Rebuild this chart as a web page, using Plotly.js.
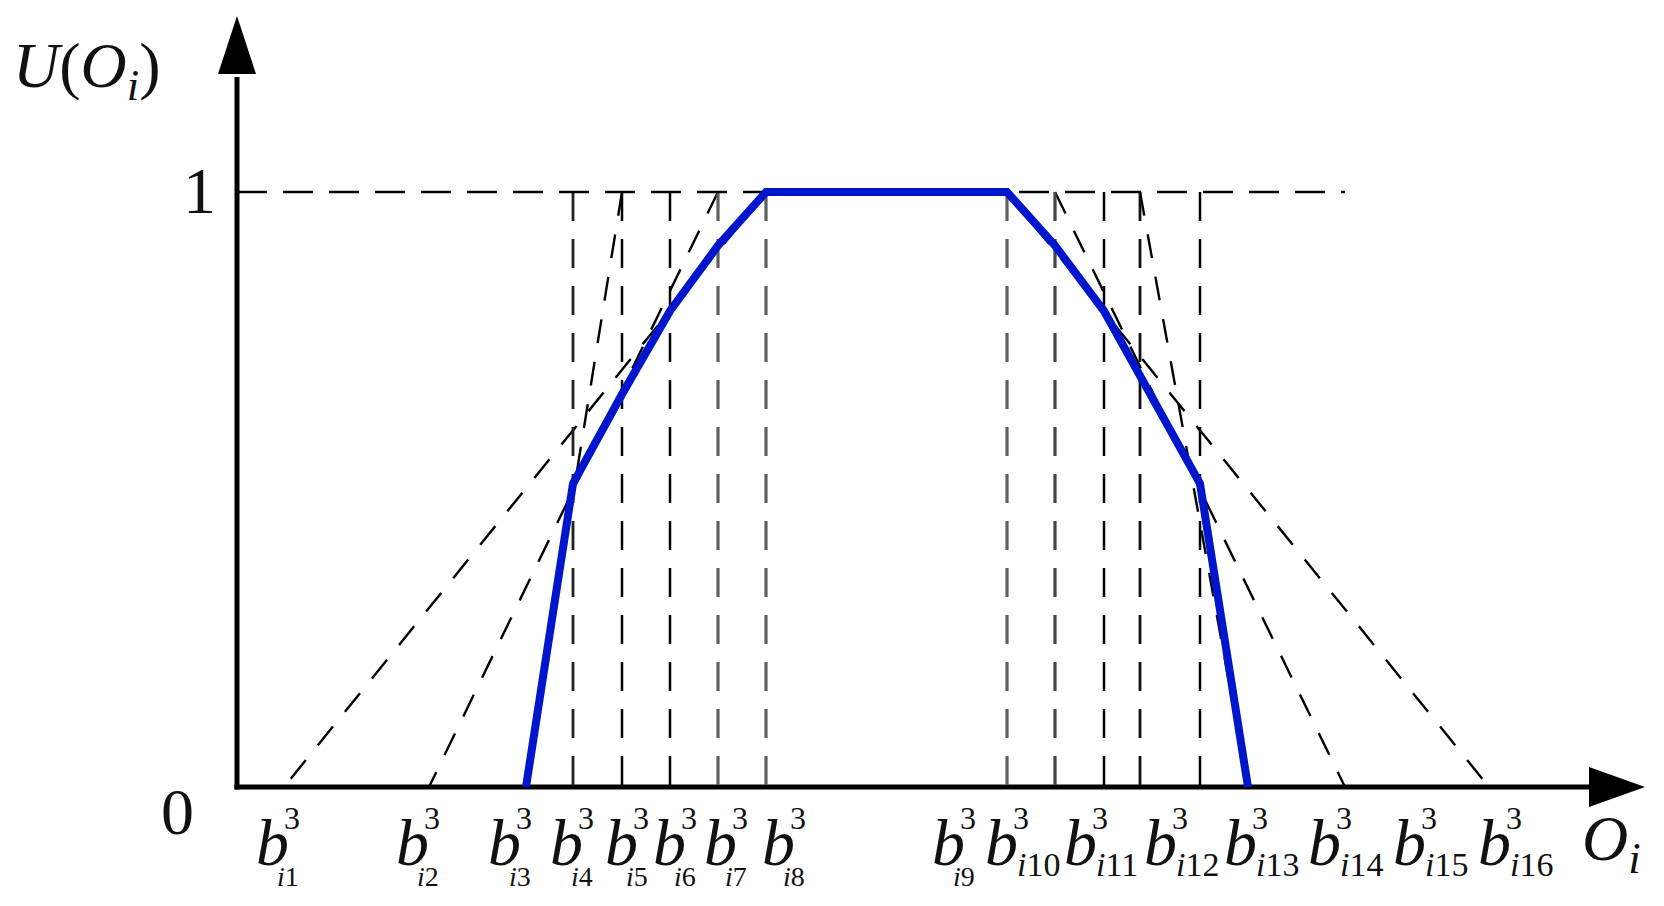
<!DOCTYPE html>
<html><head><meta charset="utf-8">
<script src="https://cdn.plot.ly/plotly-3.0.1.min.js"></script>
<style>html,body{margin:0;padding:0;background:#fff;}#chart{width:1664px;height:906px;}</style>
</head><body><div id="chart"></div>
<script>
// ---- data ----
const bNames  = ['i1','i2','i3','i4','i5','i6','i7','i8','i9','i10','i11','i12','i13','i14','i15','i16'];
const bValues = [4.7, 19.2, 28.9, 33.6, 38.5, 43.3, 48.1, 52.9, 77.0, 81.8, 86.7, 90.3, 96.3, 101.1, 110.8, 125.2];
// utility function U(O_i) (blue polyline)
const utilityPoints = ['i3','i4','i5','i6','i7','i8','i9','i10','i11','i12','i13','i14'];
const utilityValues = [0, 0.51, 0.66, 0.80, 0.91, 1, 1, 0.91, 0.80, 0.69, 0.51, 0];
// dashed trapezoids: [foot-left, top-left, top-right, foot-right]
const trapezoidA = ['i1','i8','i9','i16'];
const trapezoidB = ['i2','i7','i10','i15'];
const trapezoidC = ['i3','i5','i12','i14'];
// vertical dashed guides
const verticalGuides = ['i4','i5','i6','i7','i8','i9','i10','i11','i12','i13'];
// tick label positions along the O_i axis
const labelX = [3.5, 17.5, 26.7, 32.9, 38.4, 43.2, 48.3, 54.1, 71.1, 76.4, 84.3, 92.3, 100.3, 108.7, 117.2, 125.7];
const yTickLabels = ['0', '1'];
const yTickValues = [0, 1];
const refLineEnd = 'i15';

// ---- helpers ----
const bx = n => bValues[bNames.indexOf(n)];
const X0 = -23.7, X1 = 142.7;         // x range
const Y0 = -0.2, Y1 = 787 / 595;       // y range
const pxX = 10, pxY = 595;             // px per unit
const serif = 'Liberation Serif, Times New Roman, serif';

const traces = [];
const slantStyle = {color: '#000', width: 2.4, dash: '24px,19px'};
[trapezoidA, trapezoidB, trapezoidC].forEach(t => {
  traces.push({x: [bx(t[1]), bx(t[0])], y: [1, 0], mode: 'lines', line: slantStyle, hoverinfo: 'skip'});
  traces.push({x: [bx(t[2]), bx(t[3])], y: [1, 0], mode: 'lines', line: slantStyle, hoverinfo: 'skip'});
});
const vColors = ['#222', '#000', '#000', '#606060', '#606060', '#606060', '#444', '#000', '#111', '#000'];
const vWidths = [2.8, 2.5, 2.5, 3.2, 3.2, 3.2, 3.2, 2.5, 2.8, 2.5];
verticalGuides.forEach((n, k) => {
  traces.push({x: [bx(n), bx(n)], y: [1, 0], mode: 'lines',
    line: {color: vColors[k], width: vWidths[k], dash: '29px,18px'}, hoverinfo: 'skip'});
});
// reference line U = 1
traces.push({x: [0, bx(refLineEnd)], y: [1, 1], mode: 'lines',
  line: {color: '#000', width: 2.6, dash: '30px,16px'}, hoverinfo: 'skip'});
// utility function
traces.push({x: utilityPoints.map(bx), y: utilityValues, mode: 'lines',
  line: {color: 'rgb(0,22,204)', width: 8}, hoverinfo: 'skip'});

// ---- axes (drawn with arrows) ----
const yTip = (787 - 16) / pxY, yBase = (787 - 74) / pxY, yHalf = 19 / pxX;
const xTip = (1645 - 237) / pxX, xBase = (1589 - 237) / pxX, xHalf = 20 / pxY;
const shapes = [
  {type: 'line', xref: 'x', yref: 'y', x0: -0.25, x1: xBase + 0.5, y0: 0, y1: 0, line: {color: '#000', width: 5}, layer: 'below'},
  {type: 'line', xref: 'x', yref: 'y', x0: 0, x1: 0, y0: -2.5 / pxY, y1: yBase - 0.005, line: {color: '#000', width: 5}, layer: 'below'},
  {type: 'path', xref: 'x', yref: 'y', layer: 'below', fillcolor: '#000', line: {width: 0},
   path: `M ${-yHalf} ${yBase} L ${yHalf} ${yBase} L 0 ${yTip} Z`},
  {type: 'path', xref: 'x', yref: 'y', layer: 'below', fillcolor: '#000', line: {width: 0},
   path: `M ${xBase} ${-xHalf} L ${xBase} ${xHalf} L ${xTip} 0 Z`}
];

// ---- text ----
const ann = [];
const pyToY = py => (787 - py) / pxY;
const pxToX = px => (px - 237) / pxX;
bNames.forEach((n, k) => {
  const x = labelX[k];
  const wide = k >= 9;
  ann.push({x, y: pyToY(842), text: '<i>b</i>', showarrow: false, xanchor: 'center', yanchor: 'middle',
    font: {family: serif, size: 66, color: '#111'}});
  ann.push({x, y: pyToY(818), xshift: 10, text: '3', showarrow: false, xanchor: 'left', yanchor: 'middle',
    font: {family: serif, size: 32, color: '#111'}});
  ann.push({x, y: pyToY(wide ? 864 : 876), xshift: wide ? 14 : 3, text: '<i>' + n[0] + '</i>' + n.slice(1), showarrow: false,
    xanchor: 'left', yanchor: 'middle', font: {family: serif, size: wide ? 34 : 28, color: '#111'}});
});
ann.push({x: pxToX(1580), y: pyToY(843), text: '<i>O</i><sub><i>i</i></sub>', showarrow: false,
  xanchor: 'left', yanchor: 'middle', font: {family: serif, size: 64, color: '#111'}});
ann.push({x: pxToX(11), y: pyToY(70), text: '<i>U</i>(<i>O</i><sub><i>i</i></sub>)', showarrow: false,
  xanchor: 'left', yanchor: 'middle', font: {family: serif, size: 64, color: '#111'}});
const yLabelPos = [[177, 811], [199, 190]];
yTickLabels.forEach((t, k) => {
  ann.push({x: pxToX(yLabelPos[k][0]), y: pyToY(yLabelPos[k][1]),
    text: t, showarrow: false, xanchor: 'center', yanchor: 'middle', font: {family: serif, size: 66, color: '#111'}});
});

const layout = {
  width: 1664, height: 906, margin: {l: 0, r: 0, t: 0, b: 0},
  paper_bgcolor: '#fff', plot_bgcolor: '#fff', showlegend: false,
  xaxis: {range: [X0, X1], visible: false, fixedrange: true},
  yaxis: {range: [Y0, Y1], visible: false, fixedrange: true},
  shapes, annotations: ann
};
Plotly.newPlot('chart', traces, layout, {displayModeBar: false, staticPlot: true});
</script></body></html>
